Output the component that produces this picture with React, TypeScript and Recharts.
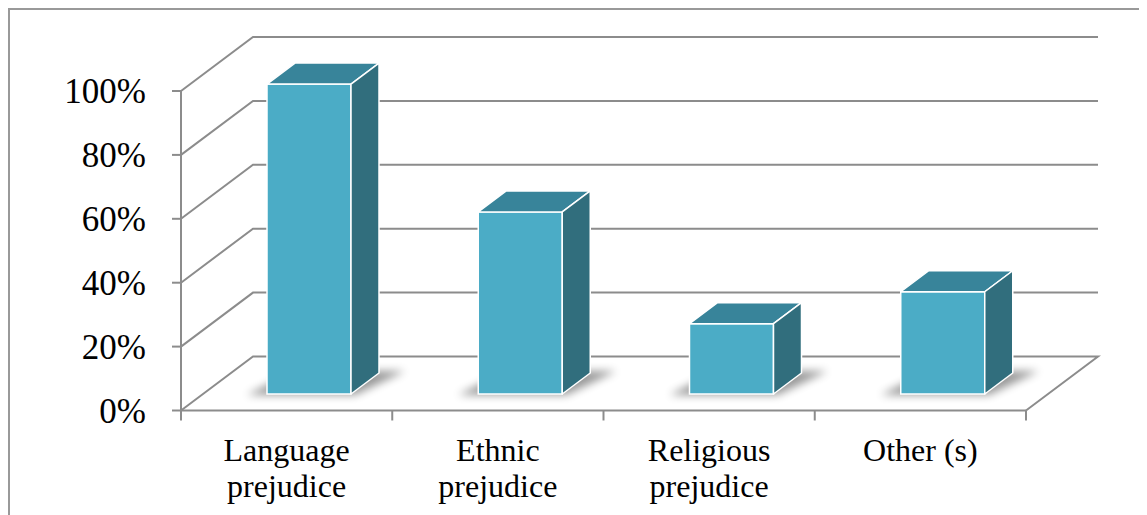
import { BarChart, Bar, XAxis, YAxis, CartesianGrid } from "recharts";

// survey shares per kind of prejudice (percent)
const categories = ["Language\nprejudice", "Ethnic\nprejudice", "Religious\nprejudice", "Other (s)"];
const shares = [97, 57, 22, 32];
const yTicks = [0, 20, 40, 60, 80, 100];

const data = categories.map((name, i) => ({ name, value: shares[i] }));

// chart frame
const W = 1139;
const H = 507;
const LEFT = 173;
const RIGHT = 1018;
const TOP = 83;
const BOTTOM = 402.5;
const Y_AXIS_W = 100;
const X_AXIS_H = 100;

// oblique depth of the floor / walls and of the boxes
const DEPTH_X = 72;
const DEPTH_Y = 54;
const BAR_OFF_X = 22;
const BAR_OFF_Y = 16.5;
const BAR_DX = 28;
const BAR_DY = 21;

const FRONT = "#4bacc6";
const TOP_FACE = "#38849a";
const SIDE = "#316e7d";
const GRID = "#8c8c8c";
const FONT = "'Liberation Serif', 'Times New Roman', serif";

const BAND = (RIGHT - LEFT) / categories.length;

// side wall + back wall line for each gridline; the 0% line also closes the floor
const WallLine = (props: any) => {
  const { x1, x2, y1 } = props;
  const y = y1;
  let d = `M${x1},${y} L${x1 + DEPTH_X},${y - DEPTH_Y} L${x2 + DEPTH_X},${y - DEPTH_Y}`;
  if (y > BOTTOM - 1) {
    d += ` L${x2},${y}`;
  }
  return <path d={d} fill="none" stroke={GRID} strokeWidth={2} />;
};

const Box3D = (props: any) => {
  const { x, y, width, height, index } = props;
  const x0 = x + BAR_OFF_X;
  const y0 = y - BAR_OFF_Y;
  const w = width;
  const h = height;
  const b = y0 + h;
  const id = `box-shadow-${index}`;
  return (
    <g>
      <defs>
        <filter id={id} x="-50%" y="-50%" width="200%" height="200%">
          <feGaussianBlur stdDeviation={4} />
        </filter>
      </defs>
      <polygon
        points={`${x0 - 20},${b + 1} ${x0 + w + 4},${b + 1} ${x0 + w + BAR_DX + 26},${b - BAR_DY - 2} ${x0 + BAR_DX},${b - BAR_DY - 2}`}
        fill="#000"
        opacity={0.4}
        filter={`url(#${id})`}
      />
      <rect x={x0} y={y0} width={w} height={h} fill={FRONT} stroke="#fff" strokeWidth={1.5} />
      <polygon
        points={`${x0},${y0} ${x0 + BAR_DX},${y0 - BAR_DY} ${x0 + w + BAR_DX},${y0 - BAR_DY} ${x0 + w},${y0}`}
        fill={TOP_FACE}
        stroke="#fff"
        strokeWidth={1.5}
        strokeLinejoin="round"
      />
      <polygon
        points={`${x0 + w},${y0} ${x0 + w + BAR_DX},${y0 - BAR_DY} ${x0 + w + BAR_DX},${b - BAR_DY} ${x0 + w},${b}`}
        fill={SIDE}
        stroke="#fff"
        strokeWidth={1.5}
        strokeLinejoin="round"
      />
    </g>
  );
};

const CategoryTick = (props: any) => {
  const { x, payload, index } = props;
  const lines = String(payload.value).split("\n");
  const last = index === categories.length - 1;
  return (
    <g>
      <line x1={x - BAND / 2} y1={BOTTOM} x2={x - BAND / 2} y2={BOTTOM + 10} stroke={GRID} strokeWidth={2} />
      {last && (
        <line x1={x + BAND / 2} y1={BOTTOM} x2={x + BAND / 2} y2={BOTTOM + 10} stroke={GRID} strokeWidth={2} />
      )}
      <text x={x} y={BOTTOM + 50} textAnchor="middle" fontFamily={FONT} fontSize={32} fill="#000">
        {lines.map((line, i) => (
          <tspan key={i} x={x} dy={i === 0 ? 0 : 36}>
            {line}
          </tspan>
        ))}
      </text>
    </g>
  );
};

export default function App() {
  return (
    <div style={{ position: "relative", width: W, height: H }}>
      <style>{"body{overflow:hidden}"}</style>
      <div
        style={{
          position: "absolute",
          left: 0,
          top: 0,
          width: W,
          height: H,
          borderTop: "2px solid #999",
          borderLeft: "2px solid #999",
          boxSizing: "border-box",
        }}
      />
      <div style={{ position: "absolute", left: 0, top: 0 }}>
        <BarChart
          width={W}
          height={H}
          data={data}
          margin={{ top: TOP, right: W - RIGHT, bottom: H - BOTTOM - X_AXIS_H, left: LEFT - Y_AXIS_W }}
        >
          <CartesianGrid vertical={false} horizontal={WallLine} />
          <XAxis
            dataKey="name"
            height={X_AXIS_H}
            axisLine={{ stroke: GRID, strokeWidth: 2 }}
            tickLine={false}
            tick={CategoryTick}
            interval={0}
          />
          <YAxis
            width={Y_AXIS_W}
            domain={[0, 100]}
            ticks={yTicks}
            tickFormatter={(v) => `${v}%`}
            axisLine={{ stroke: GRID, strokeWidth: 2 }}
            tickLine={{ stroke: GRID, strokeWidth: 2 }}
            tickSize={9}
            tickMargin={26}
            tick={{ fontFamily: FONT, fontSize: 35, fill: "#000" }}
          />
          <Bar dataKey="value" barSize={84} fill={FRONT} shape={Box3D} isAnimationActive={false} />
        </BarChart>
      </div>
    </div>
  );
}
